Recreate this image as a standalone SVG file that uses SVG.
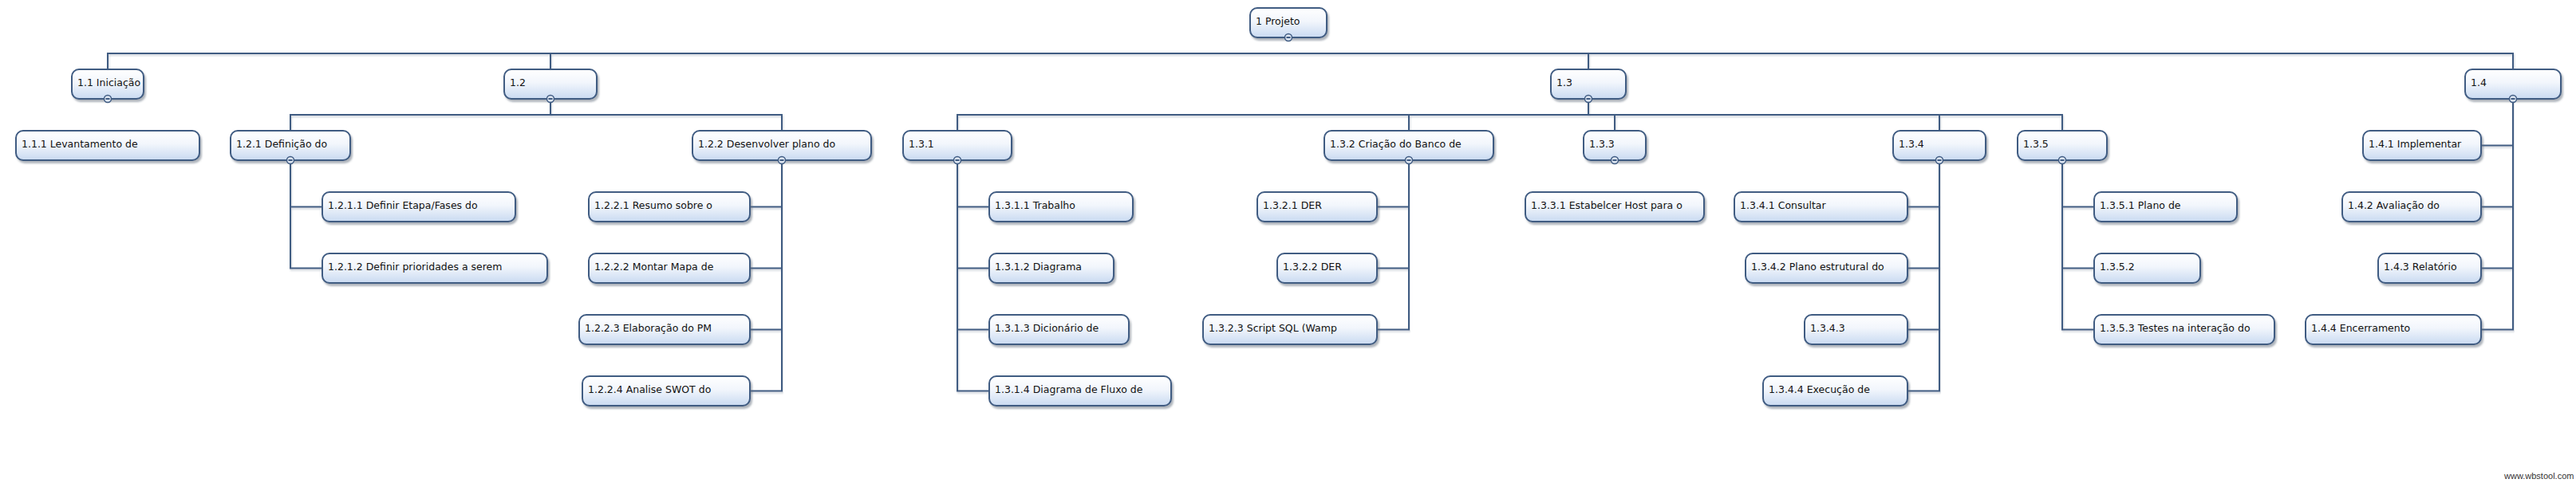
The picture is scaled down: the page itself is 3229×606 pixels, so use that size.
<svg xmlns="http://www.w3.org/2000/svg" width="3229" height="606" viewBox="0 0 3229 606">
<defs>
<linearGradient id="bg" x1="0" y1="0" x2="0" y2="1">
<stop offset="0" stop-color="#ffffff"/>
<stop offset="0.45" stop-color="#f2f6fc"/>
<stop offset="1" stop-color="#c9daf1"/>
</linearGradient>
<filter id="sh" x="-10%" y="-30%" width="120%" height="170%">
<feDropShadow dx="2" dy="3" stdDeviation="1.3" flood-color="#5f6b7a" flood-opacity="0.5"/>
</filter>
<filter id="lsh" x="-5%" y="-5%" width="110%" height="110%">
<feDropShadow dx="1" dy="2" stdDeviation="1" flood-color="#8a96a6" flood-opacity="0.45"/>
</filter>
</defs>
<style>
.b rect{fill:url(#bg);stroke:#3f5b82;stroke-width:2;filter:url(#sh)}
.b text{font-family:"DejaVu Sans",Verdana,sans-serif;font-size:12.5px;fill:#111}
.b circle{fill:#dbe4f0;stroke:#3f5b82;stroke-width:1.5}
.b line{stroke:#3f5b82;stroke-width:2}
#connectors path{fill:none;stroke:#3f5b82;stroke-width:2;stroke-linejoin:miter;filter:url(#lsh)}
.wm{font-family:"Liberation Sans",Arial,sans-serif;font-size:11px;fill:#333}
</style>
<rect x="0" y="0" width="3229" height="606" fill="#ffffff"/>

<g id="connectors">
<path d="M1615 47V67"/>
<path d="M135 87V67H3150V87"/>
<path d="M690 67V87M1991 67V87"/>
<path d="M135 124V164"/>
<path d="M690 124V144M364 164V144H980V164"/>
<path d="M1991 124V144M1200 164V144H2585V164M1766 144V164M2024 144V164M2431 144V164"/>
<path d="M3150 124V413.5H3110M3110 182.5H3150M3110 259.5H3150M3110 336.5H3150"/>
<path d="M364 201V336.5H404M364 259.5H404"/>
<path d="M980 201V490.5H940M940 259.5H980M940 336.5H980M940 413.5H980"/>
<path d="M1200 201V490.5H1240M1200 259.5H1240M1200 336.5H1240M1200 413.5H1240"/>
<path d="M1766 201V413.5H1726M1726 259.5H1766M1726 336.5H1766"/>
<path d="M2024 201V241"/>
<path d="M2431 201V490.5H2391M2391 259.5H2431M2391 336.5H2431M2391 413.5H2431"/>
<path d="M2585 201V413.5H2625M2585 259.5H2625M2585 336.5H2625"/>
</g>

<g id="n1" class="b"><rect x="1567" y="10" width="96" height="37" rx="9"/><text x="1574" y="31">1 Projeto</text><circle cx="1615" cy="47" r="4.5"/><line x1="1612.5" y1="47" x2="1617.5" y2="47"/></g>

<g id="n1_1" class="b"><rect x="90" y="87" width="90" height="37" rx="9"/><text x="97" y="108">1.1 Iniciação</text><circle cx="135" cy="124" r="4.5"/><line x1="132.5" y1="124" x2="137.5" y2="124"/></g>
<g id="n1_2" class="b"><rect x="632" y="87" width="116" height="37" rx="9"/><text x="639" y="108">1.2</text><circle cx="690" cy="124" r="4.5"/><line x1="687.5" y1="124" x2="692.5" y2="124"/></g>
<g id="n1_3" class="b"><rect x="1944" y="87" width="94" height="37" rx="9"/><text x="1951" y="108">1.3</text><circle cx="1991" cy="124" r="4.5"/><line x1="1988.5" y1="124" x2="1993.5" y2="124"/></g>
<g id="n1_4" class="b"><rect x="3090" y="87" width="120" height="37" rx="9"/><text x="3097" y="108">1.4</text><circle cx="3150" cy="124" r="4.5"/><line x1="3147.5" y1="124" x2="3152.5" y2="124"/></g>

<g id="n1_1_1" class="b"><rect x="20" y="164" width="230" height="37" rx="9"/><text x="27" y="185">1.1.1 Levantamento de</text></g>
<g id="n1_2_1" class="b"><rect x="289" y="164" width="150" height="37" rx="9"/><text x="296" y="185">1.2.1 Definição do</text><circle cx="364" cy="201" r="4.5"/><line x1="361.5" y1="201" x2="366.5" y2="201"/></g>
<g id="n1_2_2" class="b"><rect x="868" y="164" width="224" height="37" rx="9"/><text x="875" y="185">1.2.2 Desenvolver plano do</text><circle cx="980" cy="201" r="4.5"/><line x1="977.5" y1="201" x2="982.5" y2="201"/></g>
<g id="n1_3_1" class="b"><rect x="1132" y="164" width="136" height="37" rx="9"/><text x="1139" y="185">1.3.1</text><circle cx="1200" cy="201" r="4.5"/><line x1="1197.5" y1="201" x2="1202.5" y2="201"/></g>
<g id="n1_3_2" class="b"><rect x="1660" y="164" width="212" height="37" rx="9"/><text x="1667" y="185">1.3.2 Criação do Banco de</text><circle cx="1766" cy="201" r="4.5"/><line x1="1763.5" y1="201" x2="1768.5" y2="201"/></g>
<g id="n1_3_3" class="b"><rect x="1985" y="164" width="78" height="37" rx="9"/><text x="1992" y="185">1.3.3</text><circle cx="2024" cy="201" r="4.5"/><line x1="2021.5" y1="201" x2="2026.5" y2="201"/></g>
<g id="n1_3_4" class="b"><rect x="2373" y="164" width="116" height="37" rx="9"/><text x="2380" y="185">1.3.4</text><circle cx="2431" cy="201" r="4.5"/><line x1="2428.5" y1="201" x2="2433.5" y2="201"/></g>
<g id="n1_3_5" class="b"><rect x="2529" y="164" width="112" height="37" rx="9"/><text x="2536" y="185">1.3.5</text><circle cx="2585" cy="201" r="4.5"/><line x1="2582.5" y1="201" x2="2587.5" y2="201"/></g>

<g id="n1_4_1" class="b"><rect x="2962" y="164" width="148" height="37" rx="9"/><text x="2969" y="185">1.4.1 Implementar</text></g>
<g id="n1_4_2" class="b"><rect x="2936" y="241" width="174" height="37" rx="9"/><text x="2943" y="262">1.4.2 Avaliação do</text></g>
<g id="n1_4_3" class="b"><rect x="2981" y="318" width="129" height="37" rx="9"/><text x="2988" y="339">1.4.3 Relatório</text></g>
<g id="n1_4_4" class="b"><rect x="2890" y="395" width="220" height="37" rx="9"/><text x="2897" y="416">1.4.4 Encerramento</text></g>

<g id="n1_2_1_1" class="b"><rect x="404" y="241" width="242" height="37" rx="9"/><text x="411" y="262">1.2.1.1 Definir Etapa/Fases do</text></g>
<g id="n1_2_1_2" class="b"><rect x="404" y="318" width="282" height="37" rx="9"/><text x="411" y="339">1.2.1.2 Definir prioridades a serem</text></g>

<g id="n1_2_2_1" class="b"><rect x="738" y="241" width="202" height="37" rx="9"/><text x="745" y="262">1.2.2.1 Resumo sobre o</text></g>
<g id="n1_2_2_2" class="b"><rect x="738" y="318" width="202" height="37" rx="9"/><text x="745" y="339">1.2.2.2 Montar Mapa de</text></g>
<g id="n1_2_2_3" class="b"><rect x="726" y="395" width="214" height="37" rx="9"/><text x="733" y="416">1.2.2.3 Elaboração do PM</text></g>
<g id="n1_2_2_4" class="b"><rect x="730" y="472" width="210" height="37" rx="9"/><text x="737" y="493">1.2.2.4 Analise SWOT do</text></g>

<g id="n1_3_1_1" class="b"><rect x="1240" y="241" width="180" height="37" rx="9"/><text x="1247" y="262">1.3.1.1 Trabalho</text></g>
<g id="n1_3_1_2" class="b"><rect x="1240" y="318" width="156" height="37" rx="9"/><text x="1247" y="339">1.3.1.2 Diagrama</text></g>
<g id="n1_3_1_3" class="b"><rect x="1240" y="395" width="175" height="37" rx="9"/><text x="1247" y="416">1.3.1.3 Dicionário de</text></g>
<g id="n1_3_1_4" class="b"><rect x="1240" y="472" width="228" height="37" rx="9"/><text x="1247" y="493">1.3.1.4 Diagrama de Fluxo de</text></g>

<g id="n1_3_2_1" class="b"><rect x="1576" y="241" width="150" height="37" rx="9"/><text x="1583" y="262">1.3.2.1 DER</text></g>
<g id="n1_3_2_2" class="b"><rect x="1601" y="318" width="125" height="37" rx="9"/><text x="1608" y="339">1.3.2.2 DER</text></g>
<g id="n1_3_2_3" class="b"><rect x="1508" y="395" width="218" height="37" rx="9"/><text x="1515" y="416">1.3.2.3 Script SQL (Wamp</text></g>

<g id="n1_3_3_1" class="b"><rect x="1912" y="241" width="224" height="37" rx="9"/><text x="1919" y="262">1.3.3.1 Estabelcer Host para o</text></g>

<g id="n1_3_4_1" class="b"><rect x="2174" y="241" width="217" height="37" rx="9"/><text x="2181" y="262">1.3.4.1 Consultar</text></g>
<g id="n1_3_4_2" class="b"><rect x="2188" y="318" width="203" height="37" rx="9"/><text x="2195" y="339">1.3.4.2 Plano estrutural do</text></g>
<g id="n1_3_4_3" class="b"><rect x="2262" y="395" width="129" height="37" rx="9"/><text x="2269" y="416">1.3.4.3</text></g>
<g id="n1_3_4_4" class="b"><rect x="2210" y="472" width="181" height="37" rx="9"/><text x="2217" y="493">1.3.4.4 Execução de</text></g>

<g id="n1_3_5_1" class="b"><rect x="2625" y="241" width="179" height="37" rx="9"/><text x="2632" y="262">1.3.5.1 Plano de</text></g>
<g id="n1_3_5_2" class="b"><rect x="2625" y="318" width="133" height="37" rx="9"/><text x="2632" y="339">1.3.5.2</text></g>
<g id="n1_3_5_3" class="b"><rect x="2625" y="395" width="226" height="37" rx="9"/><text x="2632" y="416">1.3.5.3 Testes na interação do</text></g>

<text class="wm" x="3139" y="601">www.wbstool.com</text>
</svg>
